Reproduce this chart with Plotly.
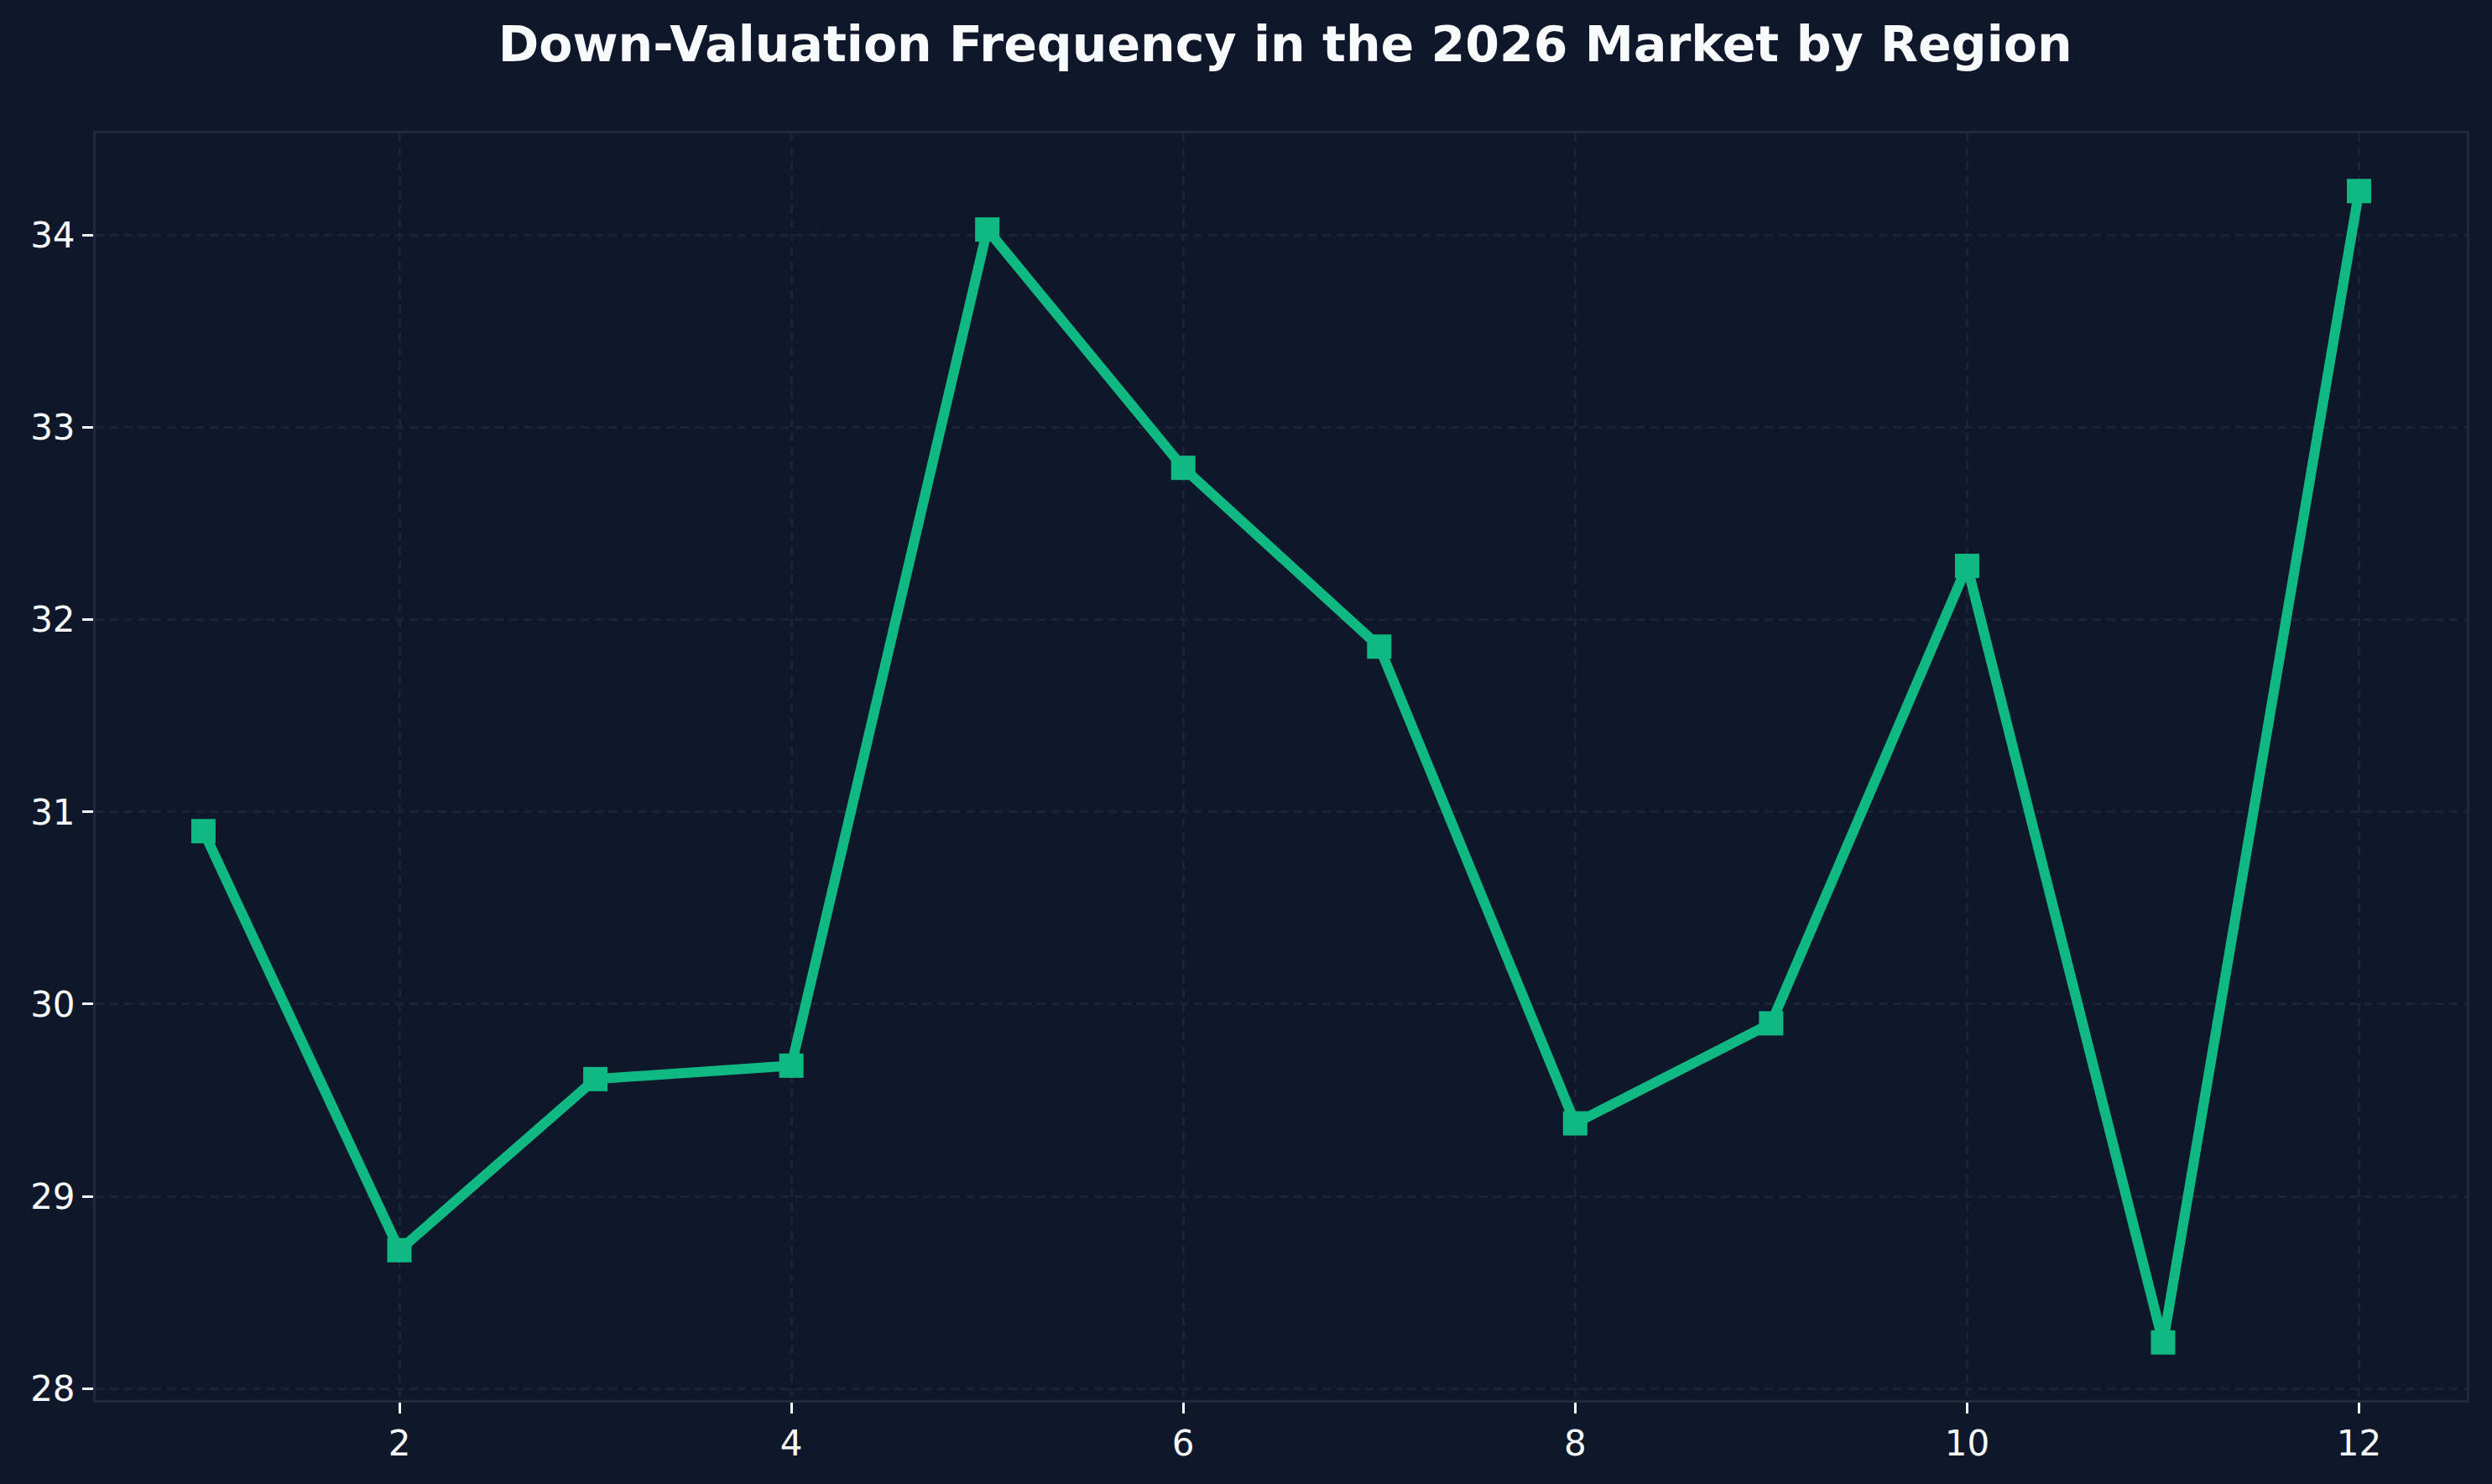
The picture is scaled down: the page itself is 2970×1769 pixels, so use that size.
import plotly.graph_objects as go

regions = [1, 2, 3, 4, 5, 6, 7, 8, 9, 10, 11, 12]
frequency = [30.90, 28.72, 29.61, 29.68, 34.03, 32.79, 31.86, 29.38, 29.90, 32.28, 28.24, 34.23]

title_text = "Down-Valuation Frequency in the 2026 Market by Region"
x_ticks = [2, 4, 6, 8, 10, 12]
y_ticks = [28, 29, 30, 31, 32, 33, 34]

BG = "#0f172a"
LINE = "#10b981"
GRID = "#1a2436"
TEXT = "#f8fafc"

fig = go.Figure()
fig.add_trace(go.Scatter(
    x=regions, y=frequency, mode="lines+markers",
    line=dict(color=LINE, width=12),
    marker=dict(symbol="square", size=29, color=LINE),
    showlegend=False,
))

axis_common = dict(
    showgrid=True, gridcolor=GRID, gridwidth=2.5, griddash="10px,7px",
    showline=True, linecolor="#1f2a3c", linewidth=3, mirror=True,
    ticks="outside", ticklen=13, tickwidth=3, tickcolor=TEXT,
    tickfont=dict(family="DejaVu Sans", size=42, color=TEXT),
    zeroline=False,
)

fig.update_layout(
    width=2970, height=1769,
    paper_bgcolor=BG, plot_bgcolor=BG,
    margin=dict(l=114, r=30, t=159, b=100),
    title=dict(text=title_text, x=0.5157, xanchor="center", y=1 - 53 / 1769, yanchor="middle",
               font=dict(family="DejaVu Sans", size=58.5, color=TEXT, weight="bold")),
    xaxis=dict(range=[0.45, 12.55], tickvals=x_ticks, **axis_common),
    yaxis=dict(range=[27.94, 34.53], tickvals=y_ticks, **axis_common),
)

fig.write_html("out.html")
